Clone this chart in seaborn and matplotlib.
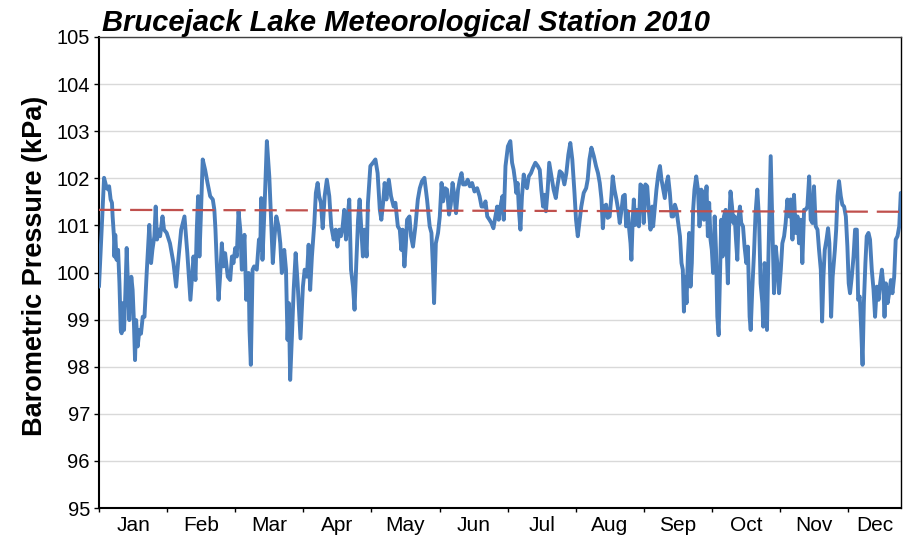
import numpy as np
import pandas as pd
import matplotlib
matplotlib.use("Agg")
import matplotlib.pyplot as plt
import seaborn as sns

# ---- data (day of year, barometric pressure in kPa) ----
day_of_year = [
    0, 2.3, 3.5, 4.3, 4.6, 5.3, 5.9, 6.2, 6.8, 7.0, 7.4, 8.0, 8.7, 9.3, 9.9, 10.3, 10.8, 11.4, 12.0, 12.6,
    13.2, 13.8, 14.7, 15.3, 15.8, 16.4, 16.9, 17.6, 18.4, 19.1, 19.9, 20.7, 21.7, 22.9, 23.7, 24.3, 25.2,
    25.8, 26.4, 27.2, 27.8, 28.9, 29.6, 30.8, 32.3, 33.9, 35.1, 36.1, 37.4, 38.9, 40.2, 41.6, 43.0, 43.9,
    44.5, 45.1, 45.7, 46.3, 47.2, 48.3, 49.4, 50.6, 51.8, 52.5, 53.0, 53.6, 54.4, 55.1, 55.9, 56.6, 57.4,
    58.6, 59.7,
    60.5, 61.2, 62.0, 62.7, 63.5, 64.3, 65.0, 66.2, 67.0, 68.1, 68.5, 69.1, 69.9, 70.6, 71.8, 72.8, 73.4,
    73.8, 74.4, 75.3, 76.4, 77.5, 78.2, 79.1, 79.9, 80.7, 81.7, 82.5, 83.2, 84.3, 85.1, 85.8, 86.4, 87.0,
    87.8, 88.6, 89.5, 90.4, 91.7, 92.8, 93.6, 94.6, 95.4, 96.1, 96.9, 98.0, 98.7, 99.5, 100.2, 101.0,
    101.8, 102.7, 103.7, 104.8, 105.7, 106.8, 107.7, 108.5, 109.4, 110.1, 110.9, 111.6, 112.4, 113.2,
    113.9, 114.7, 115.6, 116.3, 117.1, 117.9, 118.6, 119.4, 120.1, 120.9, 121.8, 122.4,
    123.5, 124.7, 125.8, 126.8, 127.8, 128.5, 129.3, 130.0, 130.8, 131.9, 132.9, 134.1, 134.9, 136.0,
    136.9, 137.6, 138.2, 139.0, 139.6, 140.2, 141.3, 142.0, 142.9, 144.0, 145.1, 146.0, 147.0, 148.1,
    149.3, 150.5, 151.3, 151.9, 152.5, 153.3, 154.3, 155.1, 155.9, 156.6, 157.5, 158.4, 159.3, 160.1,
    160.9, 161.8, 162.5, 163.4, 164.2, 165.0, 165.7, 166.8, 167.8, 168.8, 169.8, 170.9, 172.1, 173.2,
    174.1, 175.1, 175.9, 176.7, 177.7, 178.6, 179.5, 180.4, 181.2, 181.9, 182.7, 183.6, 184.2, 185.0,
    186.1,
    187.2, 188.0, 188.7, 189.5, 189.9, 190.5, 191.1, 191.8, 192.5, 193.3, 194.0, 194.8, 195.6, 196.6,
    197.5, 198.6, 199.7, 200.6, 201.3, 202.1, 202.7, 203.4, 204.2, 204.9, 205.9, 206.9, 207.9, 208.6,
    209.7, 210.7, 211.8, 212.7, 213.6, 214.5, 215.4, 216.4, 217.1, 217.9, 218.6, 219.5, 220.6, 221.7,
    222.4, 223.2, 224.1, 225.2, 226.2, 227.1, 227.9, 228.7, 229.3, 230.0, 230.8, 231.5, 232.4, 233.2,
    233.8, 234.6, 235.5, 236.3, 237.0, 237.8, 238.5, 239.3, 239.9, 240.7, 241.3, 241.9, 242.3, 242.9,
    243.4, 244.1, 244.9, 245.7, 246.4, 247.2, 247.9, 248.7, 249.5, 250.2,
    251.0, 251.8, 252.2, 253.0, 253.7, 254.6, 255.3, 256.0, 256.8, 257.5, 258.3, 259.0, 259.8, 260.6,
    261.3, 262.1, 262.8, 263.6, 264.4, 265.1, 265.7, 266.2, 266.8, 267.4, 268.0, 268.6, 269.2, 269.8,
    270.4, 271.0, 271.8, 272.6, 273.3, 274.1, 274.8, 275.3, 275.9, 276.5, 277.1, 277.7, 278.3, 278.9,
    279.5, 280.2, 280.8, 281.4, 282.0, 282.6, 283.2, 283.8, 284.4, 285.2, 285.8, 286.2, 286.8, 287.4,
    288.1, 288.7, 289.3, 289.9, 290.5, 291.1, 291.7, 292.3, 293.1, 293.8, 294.6, 295.3, 296.1, 296.6,
    297.3, 298.1, 298.8, 299.6, 300.4, 301.1, 301.9, 302.3, 302.9, 303.5, 304.0, 304.6, 305.2,
    305.7, 306.5, 307.2, 308.0, 308.7, 309.5, 310.3, 311.0, 311.8, 312.5, 313.3, 314.1, 314.8, 315.6,
    316.3, 317.1, 317.9, 318.6, 319.4, 320.1, 320.9, 321.6, 322.4, 323.2, 323.9, 324.7, 325.4, 326.2,
    327.0, 327.7, 328.5, 329.1, 329.7, 330.3, 331.1, 331.8, 332.4, 333.2, 333.9, 334.9, 335.5, 336.1,
    336.8, 337.6, 338.3, 339.1, 339.9, 340.6, 341.2, 341.8, 342.6, 343.4, 344.1, 344.9, 345.5, 346.2,
    346.9, 347.5, 348.1, 348.8, 349.4, 350.2, 350.9, 351.7, 352.5, 353.2, 354.0, 354.8, 355.5, 356.3,
    356.9, 357.5, 358.1, 358.9, 359.6, 360.4, 361.1, 361.9, 362.6, 363.4, 364.2, 364.9,
]

pressure_kpa = [
    99.70, 102.01, 101.79, 101.76, 101.83, 101.55, 101.48, 101.19, 100.77, 100.34, 100.80, 100.27, 100.48,
    99.77, 98.78, 98.71, 99.35, 98.78, 99.56, 100.52, 99.70, 98.99, 99.91, 99.63, 99.06, 98.14, 98.99,
    98.43, 98.78, 98.70, 99.06, 99.06, 99.99, 101.01, 100.20, 100.48, 100.77, 101.40, 100.70, 100.91,
    100.77, 101.19, 100.91, 100.84, 100.62, 100.20, 99.70, 100.27, 100.91, 101.19, 100.41, 99.42, 100.34,
    99.84, 100.91, 101.62, 100.34, 101.12, 102.40, 102.18, 101.90, 101.62, 101.55, 101.33, 100.91, 100.20,
    99.42, 99.91, 100.62, 100.13, 100.41, 99.91, 99.84,
    100.34, 100.20, 100.52, 100.34, 101.30, 100.91, 100.06, 100.80, 99.42, 99.99, 98.78, 98.04, 100.06,
    100.13, 100.06, 100.70, 100.48, 101.58, 100.27, 101.33, 102.79, 102.04, 101.26, 100.20, 100.77, 101.19,
    100.98, 100.62, 99.99, 100.48, 100.06, 98.57, 99.35, 97.72, 98.64, 99.63, 100.41, 99.77, 98.60, 99.70,
    100.06, 99.91, 100.59, 99.63, 100.34, 101.05, 101.69, 101.90, 101.62, 101.48, 100.94, 101.62, 101.97,
    101.62, 100.98, 100.70, 100.91, 100.55, 100.91, 100.77, 100.98, 101.33, 100.70, 101.19, 101.55, 100.06,
    99.70, 99.21, 100.20, 101.12, 101.55, 100.91, 100.34, 100.91, 100.34, 101.48,
    102.26, 102.33, 102.40, 102.11, 101.33, 101.12, 101.48, 101.90, 101.55, 101.97, 101.62, 101.40, 101.48,
    100.98, 100.91, 100.48, 100.91, 100.13, 100.55, 101.12, 101.19, 100.77, 100.55, 100.98, 101.55, 101.79,
    101.94, 102.01, 101.55, 100.98, 100.84, 100.20, 99.35, 100.62, 100.84, 101.19, 101.90, 101.51, 101.79,
    101.76, 101.23, 101.44, 101.90, 101.62, 101.26, 101.76, 101.97, 102.11, 101.87, 101.87, 101.97, 101.83,
    101.90, 101.72, 101.79, 101.62, 101.40, 101.40, 101.51, 101.19, 101.12, 101.05, 100.94, 101.19, 101.40,
    101.12, 101.40, 101.62, 101.12, 102.26, 102.68,
    102.79, 102.33, 102.18, 101.90, 101.69, 101.90, 101.33, 100.91, 101.62, 102.08, 101.87, 101.79, 102.04,
    102.11, 102.22, 102.33, 102.26, 102.18, 101.76, 101.40, 101.65, 101.30, 101.76, 102.33, 102.04, 101.76,
    101.58, 101.83, 102.15, 102.11, 101.87, 102.11, 102.50, 102.75, 102.40, 101.69, 101.12, 100.77, 101.05,
    101.40, 101.69, 101.79, 101.97, 102.40, 102.65, 102.47, 102.26, 102.11, 101.90, 101.55, 100.94, 101.40,
    101.44, 101.16, 101.19, 101.62, 102.04, 101.76, 101.55, 101.33, 101.05, 101.33, 101.62, 101.65, 100.98,
    101.30, 100.91, 100.62, 100.27, 101.12, 101.55, 101.01, 101.33, 100.98, 101.87, 101.83, 101.05, 101.87,
    101.83, 101.33,
    100.91, 101.40, 100.98, 101.40, 101.76, 102.11, 102.26, 101.97, 101.76, 101.58, 101.90, 102.04, 101.69,
    101.19, 101.19, 101.44, 101.33, 101.05, 100.77, 100.20, 100.06, 99.17, 99.91, 99.35, 100.34, 100.84,
    99.70, 100.20, 101.33, 101.76, 102.04, 101.76, 100.98, 101.76, 101.69, 101.12, 101.40, 101.83, 100.77,
    101.48, 100.70, 100.48, 99.99, 101.19, 100.48, 99.06, 98.67, 99.91, 101.12, 100.34, 101.19, 101.33,
    100.34, 99.77, 101.05, 101.72, 101.40, 101.05, 101.19, 100.70, 100.27, 101.19, 101.40, 101.05, 100.98,
    100.55, 100.20, 100.55, 99.06, 98.78, 99.63, 100.41, 101.26, 101.76, 101.12, 99.77, 99.35, 98.85,
    100.20, 99.91, 98.78, 100.20, 101.40,
    102.47, 100.91, 99.56, 100.55, 100.20, 99.56, 100.06, 100.62, 100.77, 101.05, 101.55, 101.19, 101.55,
    100.70, 101.65, 100.84, 101.19, 100.62, 101.12, 100.20, 101.33, 101.33, 101.40, 102.04, 101.12, 101.05,
    101.83, 100.98, 100.91, 100.48, 100.06, 98.96, 99.91, 100.48, 100.70, 100.94, 100.62, 99.06, 99.91,
    100.48, 100.91, 101.62, 101.94, 101.62, 101.44, 101.40, 101.19, 100.55, 99.77, 99.56, 99.91, 100.34,
    100.91, 100.91, 99.42, 99.49, 98.78, 98.04, 99.35, 100.20, 100.77, 100.84, 100.70, 100.06, 99.63,
    99.06, 99.70, 99.42, 99.77, 100.06, 99.77, 99.06, 99.77, 99.35, 99.56, 99.84, 99.56, 99.91, 100.70,
    100.77, 100.98, 101.69,
]

# linear trend (dashed red line), endpoints
trend_days = [0, 365]
trend_kpa = [101.33, 101.29]

month_labels = ["Jan", "Feb", "Mar", "Apr", "May", "Jun",
                "Jul", "Aug", "Sep", "Oct", "Nov", "Dec"]
month_tick_days = [0, 31, 62, 93, 124, 155, 186, 217, 248, 279, 310, 341]
month_label_days = [15.5, 46.5, 77.5, 108.5, 139.5, 170.5, 201.5, 232.5, 263.5, 294.5, 325.5, 353]
y_ticks = [95, 96, 97, 98, 99, 100, 101, 102, 103, 104, 105]

title_text = "Brucejack Lake Meteorological Station 2010"
y_label_text = "Barometric Pressure (kPa)"

# ---- plotting ----
sns.set_theme(style="white")
plt.rcParams["font.family"] = ["Liberation Sans", "DejaVu Sans"]

df = pd.DataFrame({"day": day_of_year, "kpa": pressure_kpa})

fig = plt.figure(figsize=(9.12, 5.40), dpi=100)
ax = fig.add_axes([99 / 912, 1 - 508 / 540, 802 / 912, 471 / 540])

ax.set_ylim(95, 105)
ax.set_xlim(0, 365)
ax.set_yticks(y_ticks)
ax.yaxis.grid(True, color="#d9d9d9", linewidth=1.0)
ax.xaxis.grid(False)
ax.set_axisbelow(True)

sns.lineplot(data=df, x="day", y="kpa", ax=ax, color="#4a7ebb",
             linewidth=2.8, sort=False, estimator=None, zorder=3)
ax.plot(trend_days, trend_kpa, color="#c0504d", linewidth=1.6,
        linestyle=(0, (10, 4)), zorder=4)

ax.set_xticks(month_tick_days)
ax.set_xticklabels([])
ax.set_xticks(month_label_days, minor=True)
ax.set_xticklabels(month_labels, minor=True)
ax.tick_params(axis="x", which="major", direction="out", length=3, width=1,
               color="black", bottom=True)
ax.tick_params(axis="x", which="minor", length=0, pad=6, labelsize=15,
               labelcolor="black", bottom=True)
ax.tick_params(axis="y", which="major", direction="out", length=3.5, width=1,
               color="black", left=True, pad=3, labelsize=14.5, labelcolor="black")

for side in ["left", "bottom", "right", "top"]:
    ax.spines[side].set_visible(True)
    ax.spines[side].set_color("black")
ax.spines["left"].set_linewidth(1.5)
ax.spines["bottom"].set_linewidth(1.5)
ax.spines["right"].set_linewidth(1.0)
ax.spines["top"].set_linewidth(1.0)
ax.spines["top"].set_color("#404040")

ax.set_xlabel("")
ax.set_ylabel(y_label_text, fontsize=19.5, fontweight="bold", color="black")
ax.yaxis.set_label_coords(-0.063, 0.515)

ax.set_title(title_text, loc="left", fontsize=21, fontweight="bold",
             fontstyle="italic", color="black", pad=3, x=0.004)

fig.savefig("out.png", dpi=100, facecolor="white")
